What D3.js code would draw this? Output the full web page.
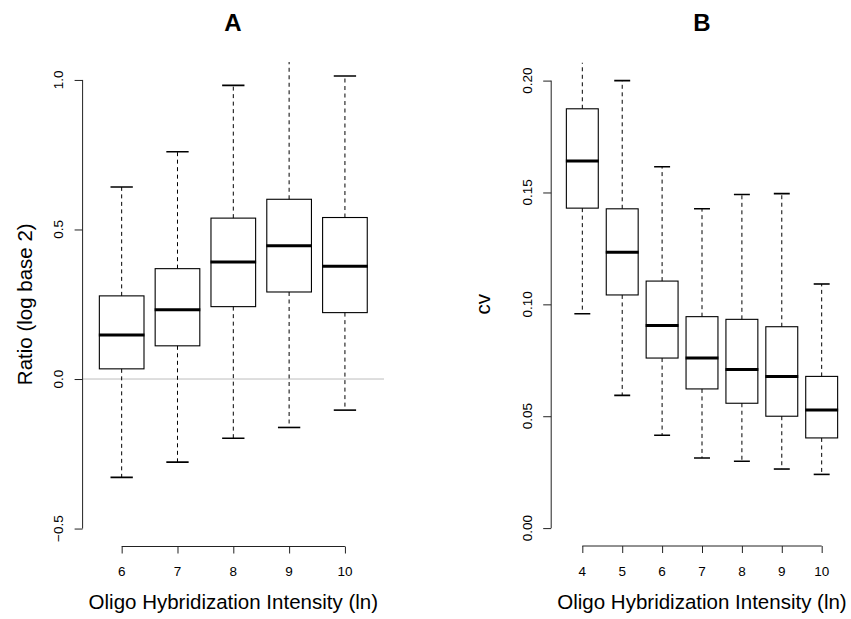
<!DOCTYPE html>
<html>
<head>
<meta charset="utf-8">
<script src="https://cdn.jsdelivr.net/npm/d3@7"></script>
<style>
  html, body { margin: 0; padding: 0; background: #fff; }
  svg { display: block; font-family: "Liberation Sans", Arial, Helvetica, sans-serif; }
</style>
</head>
<body>
<svg id="chart" width="851" height="619"></svg>
<script>
// ---- Panel A data: log2 ratio by oligo hybridization intensity ----
const catsA  = [6, 7, 8, 9, 10];
const lowA   = [-0.329, -0.278, -0.198, -0.162, -0.104];
const q1A    = [0.034, 0.111, 0.242, 0.291, 0.222];
const medA   = [0.147, 0.232, 0.391, 0.446, 0.377];
const q3A    = [0.278, 0.369, 0.538, 0.601, 0.540];
const highA  = [0.642, 0.760, 0.982, 1.120, 1.013];
const ticksA = [-0.5, 0.0, 0.5, 1.0];

// ---- Panel B data: cv by oligo hybridization intensity ----
const catsB  = [4, 5, 6, 7, 8, 9, 10];
const lowB   = [0.0958, 0.0593, 0.0415, 0.0313, 0.0299, 0.0264, 0.0240];
const q1B    = [0.1430, 0.1042, 0.0760, 0.0622, 0.0558, 0.0500, 0.0403];
const medB   = [0.1641, 0.1233, 0.0906, 0.0760, 0.0709, 0.0678, 0.0528];
const q3B    = [0.1874, 0.1427, 0.1104, 0.0945, 0.0933, 0.0900, 0.0678];
const highB  = [0.2300, 0.2000, 0.1615, 0.1427, 0.1491, 0.1495, 0.1091];
const ticksB = [0.00, 0.05, 0.10, 0.15, 0.20];

const svg = d3.select("#chart");

function panel(opts) {
  const {id, cats, low, q1, med, q3, high, yTicks, yFmt, yDomain, xRange, yRange,
         title, titleX, ylab, ylabX, ytickX, xlab, zeroLine} = opts;
  const n = cats.length;
  const ext = n * 0.04;
  const x = d3.scaleLinear().domain([0.5 - ext, n + 0.5 + ext]).range(xRange);
  const y = d3.scaleLinear().domain(yDomain).range(yRange);
  const g = svg.append("g");

  // clip to plot region
  svg.append("clipPath").attr("id", "clip" + id)
    .append("rect")
    .attr("x", xRange[0]).attr("y", yRange[1])
    .attr("width", xRange[1] - xRange[0]).attr("height", yRange[0] - yRange[1]);
  const plot = g.append("g").attr("clip-path", `url(#clip${id})`);

  if (zeroLine) {
    plot.append("line")
      .attr("x1", xRange[0]).attr("x2", xRange[1])
      .attr("y1", y(0)).attr("y2", y(0))
      .attr("stroke", "#bdbdbd").attr("stroke-width", 1);
  }

  const data = cats.map((c, i) => ({c, pos: i + 1, lo: low[i], q1: q1[i], med: med[i], q3: q3[i], hi: high[i]}));
  const bw = (x(2) - x(1)) * 0.8;
  const sw = bw / 2;

  const b = plot.selectAll("g.box").data(data).join("g").attr("class", "box");
  // whiskers
  b.append("line")
    .attr("x1", d => x(d.pos)).attr("x2", d => x(d.pos))
    .attr("y1", d => y(d.q3)).attr("y2", d => y(d.hi))
    .attr("stroke", "#000").attr("stroke-width", 1).attr("stroke-dasharray", "4,3.5");
  b.append("line")
    .attr("x1", d => x(d.pos)).attr("x2", d => x(d.pos))
    .attr("y1", d => y(d.q1)).attr("y2", d => y(d.lo))
    .attr("stroke", "#000").attr("stroke-width", 1).attr("stroke-dasharray", "4,3.5");
  // staples
  b.append("line")
    .attr("x1", d => x(d.pos) - sw / 2).attr("x2", d => x(d.pos) + sw / 2)
    .attr("y1", d => y(d.hi)).attr("y2", d => y(d.hi))
    .attr("stroke", "#000").attr("stroke-width", 1.6);
  b.append("line")
    .attr("x1", d => x(d.pos) - sw / 2).attr("x2", d => x(d.pos) + sw / 2)
    .attr("y1", d => y(d.lo)).attr("y2", d => y(d.lo))
    .attr("stroke", "#000").attr("stroke-width", 1.6);
  // boxes
  b.append("rect")
    .attr("x", d => x(d.pos) - bw / 2).attr("width", bw)
    .attr("y", d => y(d.q3)).attr("height", d => y(d.q1) - y(d.q3))
    .attr("fill", "none").attr("stroke", "#000").attr("stroke-width", 1.1);
  // medians
  b.append("line")
    .attr("x1", d => x(d.pos) - bw / 2 - 0.5).attr("x2", d => x(d.pos) + bw / 2 + 0.5)
    .attr("y1", d => y(d.med)).attr("y2", d => y(d.med))
    .attr("stroke", "#000").attr("stroke-width", 3);

  // y axis (R style: line from first to last tick)
  const yAxis = d3.axisLeft(y).tickValues(yTicks).tickSize(8).tickFormat("");
  const ya = g.append("g").attr("transform", `translate(${xRange[0]},0)`).call(yAxis);
  ya.select(".domain").remove();
  ya.selectAll(".tick line").attr("stroke", "#222");
  ya.append("line")
    .attr("x1", 0).attr("x2", 0)
    .attr("y1", y(yTicks[0])).attr("y2", y(yTicks[yTicks.length - 1]))
    .attr("stroke", "#222");
  g.selectAll("text.ytick").data(yTicks).join("text").attr("class", "ytick")
    .attr("transform", d => `translate(${ytickX},${y(d)}) rotate(-90)`)
    .attr("text-anchor", "middle")
    .attr("font-size", 13.5).attr("fill", "#000")
    .text(d => yFmt(d));

  // x axis
  const xAxis = d3.axisBottom(x).tickValues(data.map(d => d.pos)).tickSize(7).tickFormat("");
  const xa = g.append("g").attr("transform", `translate(0,${yRange[0]})`).call(xAxis);
  xa.select(".domain").remove();
  xa.selectAll(".tick line").attr("stroke", "#222");
  xa.append("line")
    .attr("x1", x(1)).attr("x2", x(n)).attr("y1", 0).attr("y2", 0)
    .attr("stroke", "#222");
  g.selectAll("text.xtick").data(data).join("text").attr("class", "xtick")
    .attr("x", d => x(d.pos)).attr("y", 576)
    .attr("text-anchor", "middle").attr("font-size", 13.5).attr("fill", "#000")
    .text(d => d.c);

  // titles
  g.append("text").attr("x", titleX).attr("y", 31)
    .attr("text-anchor", "middle").attr("font-size", 24).attr("font-weight", "bold")
    .text(title);
  g.append("text")
    .attr("transform", `translate(${ylabX},${(yRange[0] + yRange[1]) / 2}) rotate(-90)`)
    .attr("text-anchor", "middle").attr("font-size", 20.5)
    .text(ylab);
  g.append("text").attr("x", (xRange[0] + xRange[1]) / 2).attr("y", 609)
    .attr("text-anchor", "middle").attr("font-size", 20.5)
    .text(xlab);
}

const fmtA = d => d === -0.5 ? "\u22120.5" : d3.format(".1f")(d);
const fmtB = d => d3.format(".2f")(d);

panel({
  id: "A", cats: catsA, low: lowA, q1: q1A, med: medA, q3: q3A, high: highA,
  yTicks: ticksA, yFmt: fmtA, yDomain: [-0.56, 1.06],
  xRange: [82.6, 384], yRange: [546.5, 62],
  title: "A", titleX: 233, ylab: "Ratio (log base 2)", ylabX: 32, ytickX: 63,
  xlab: "Oligo Hybridization Intensity (ln)", zeroLine: true
});

panel({
  id: "B", cats: catsB, low: lowB, q1: q1B, med: medB, q3: q3B, high: highB,
  yTicks: ticksB, yFmt: fmtB, yDomain: [-0.008, 0.208],
  xRange: [551.2, 852.8], yRange: [546, 62.7],
  title: "B", titleX: 702, ylab: "cv", ylabX: 490, ytickX: 532,
  xlab: "Oligo Hybridization Intensity (ln)", zeroLine: false
});
</script>
</body>
</html>
